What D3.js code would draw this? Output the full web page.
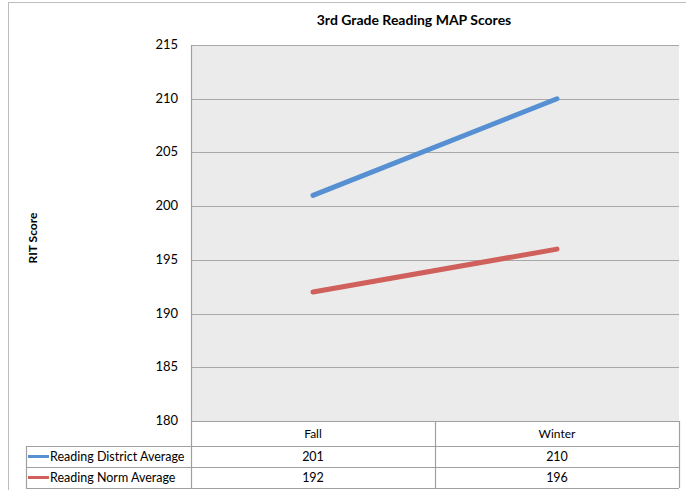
<!DOCTYPE html>
<html>
<head>
<meta charset="utf-8">
<script src="https://cdn.jsdelivr.net/npm/d3@7.9.0/dist/d3.min.js"></script>
<style>
  body { margin: 0; background: #fff; }
  text { font-family: Lato, "Open Sans", sans-serif; fill: #000; }
</style>
</head>
<body>
<svg id="chart" width="686" height="490"></svg>
<script>
const categories = ['Fall', 'Winter'];
const seriesNames = ['Reading District Average', 'Reading Norm Average'];
const districtValues = [201, 210];
const normValues = [192, 196];
const yTicks = [180, 185, 190, 195, 200, 205, 210, 215];
const seriesColors = ['#5690D2', '#D0605B'];

const svg = d3.select('#chart');
const plotLeft = 191, plotRight = 679, plotTop = 45, plotBottom = 421;

// outer chart border
svg.append('rect')
    .attr('x', 8.5).attr('y', 2.5)
    .attr('width', 700).attr('height', 500)
    .attr('fill', 'none').attr('stroke', '#BDBDBD');

// title
svg.append('text')
    .attr('x', 414).attr('y', 25)
    .attr('text-anchor', 'middle')
    .attr('font-size', 14).attr('font-weight', 'bold')
    .text('3rd Grade Reading MAP Scores');

const x = d3.scaleBand().domain(categories).range([plotLeft, plotRight]);
const y = d3.scaleLinear().domain([180, 215]).range([plotBottom, plotTop]);

// plot area
svg.append('rect')
    .attr('x', plotLeft).attr('y', plotTop)
    .attr('width', plotRight - plotLeft).attr('height', plotBottom - plotTop)
    .attr('fill', '#EBEBEB');

// grid lines
svg.append('g').selectAll('line')
    .data(yTicks)
    .join('line')
    .attr('x1', plotLeft).attr('x2', plotRight)
    .attr('y1', d => Math.round(y(d)) + 0.5).attr('y2', d => Math.round(y(d)) + 0.5)
    .attr('stroke', '#A8A8A8').attr('stroke-width', 1.2);

// y tick labels
svg.append('g').selectAll('text')
    .data(yTicks)
    .join('text')
    .attr('x', 178).attr('y', d => y(d) + 4)
    .attr('text-anchor', 'end')
    .attr('font-size', 13)
    .text(d => d);

// y axis title
svg.append('text')
    .attr('transform', `translate(37, 238) rotate(-90)`)
    .attr('text-anchor', 'middle')
    .attr('font-size', 12).attr('font-weight', 'bold')
    .text('RIT Score');

// lines
const allSeries = [districtValues, normValues];
const line = d3.line()
    .x((d, i) => x(categories[i]) + x.bandwidth() / 2)
    .y(d => y(d));

allSeries.forEach((vals, i) => {
    svg.append('path')
        .attr('d', line(vals))
        .attr('fill', 'none')
        .attr('stroke', seriesColors[i])
        .attr('stroke-width', 5)
        .attr('stroke-linecap', 'round');
});

// data table
const rowTops = [421, 446, 467, 488];
const tableLeft = 26;
const grid = svg.append('g').attr('stroke', '#A0A0A0').attr('stroke-width', 1.2).attr('fill', 'none');

// vertical lines
grid.append('line').attr('x1', plotLeft + 0.5).attr('x2', plotLeft + 0.5).attr('y1', plotTop).attr('y2', rowTops[3]);
grid.append('line').attr('x1', x('Winter') + 0.5).attr('x2', x('Winter') + 0.5).attr('y1', rowTops[0]).attr('y2', rowTops[3]);
grid.append('line').attr('x1', plotRight + 0.5).attr('x2', plotRight + 0.5).attr('y1', rowTops[0]).attr('y2', rowTops[3]);
grid.append('line').attr('x1', tableLeft + 0.5).attr('x2', tableLeft + 0.5).attr('y1', rowTops[1]).attr('y2', rowTops[3]);

// horizontal lines
grid.append('line').attr('x1', plotLeft).attr('x2', plotRight).attr('y1', rowTops[0] + 0.5).attr('y2', rowTops[0] + 0.5);
[1, 2, 3].forEach(r => {
    grid.append('line').attr('x1', tableLeft).attr('x2', plotRight)
        .attr('y1', rowTops[r] + 0.5).attr('y2', rowTops[r] + 0.5);
});

// header
svg.append('g').selectAll('text')
    .data(categories)
    .join('text')
    .attr('x', d => x(d) + x.bandwidth() / 2)
    .attr('y', (rowTops[0] + rowTops[1]) / 2 + 4)
    .attr('text-anchor', 'middle')
    .attr('font-size', 12)
    .text(d => d);

// rows
allSeries.forEach((vals, r) => {
    const cy = (rowTops[r + 1] + rowTops[r + 2]) / 2;
    svg.append('line')
        .attr('x1', 28).attr('x2', 49)
        .attr('y1', cy).attr('y2', cy)
        .attr('stroke', seriesColors[r]).attr('stroke-width', 3);
    svg.append('text')
        .attr('x', 50).attr('y', cy + 4.5)
        .attr('font-size', 12.5)
        .text(seriesNames[r]);
    svg.append('g').selectAll('text')
        .data(vals)
        .join('text')
        .attr('x', (d, i) => x(categories[i]) + x.bandwidth() / 2)
        .attr('y', cy + 4.5)
        .attr('text-anchor', 'middle')
        .attr('font-size', 12.5)
        .text(d => d);
});
</script>
</body>
</html>
